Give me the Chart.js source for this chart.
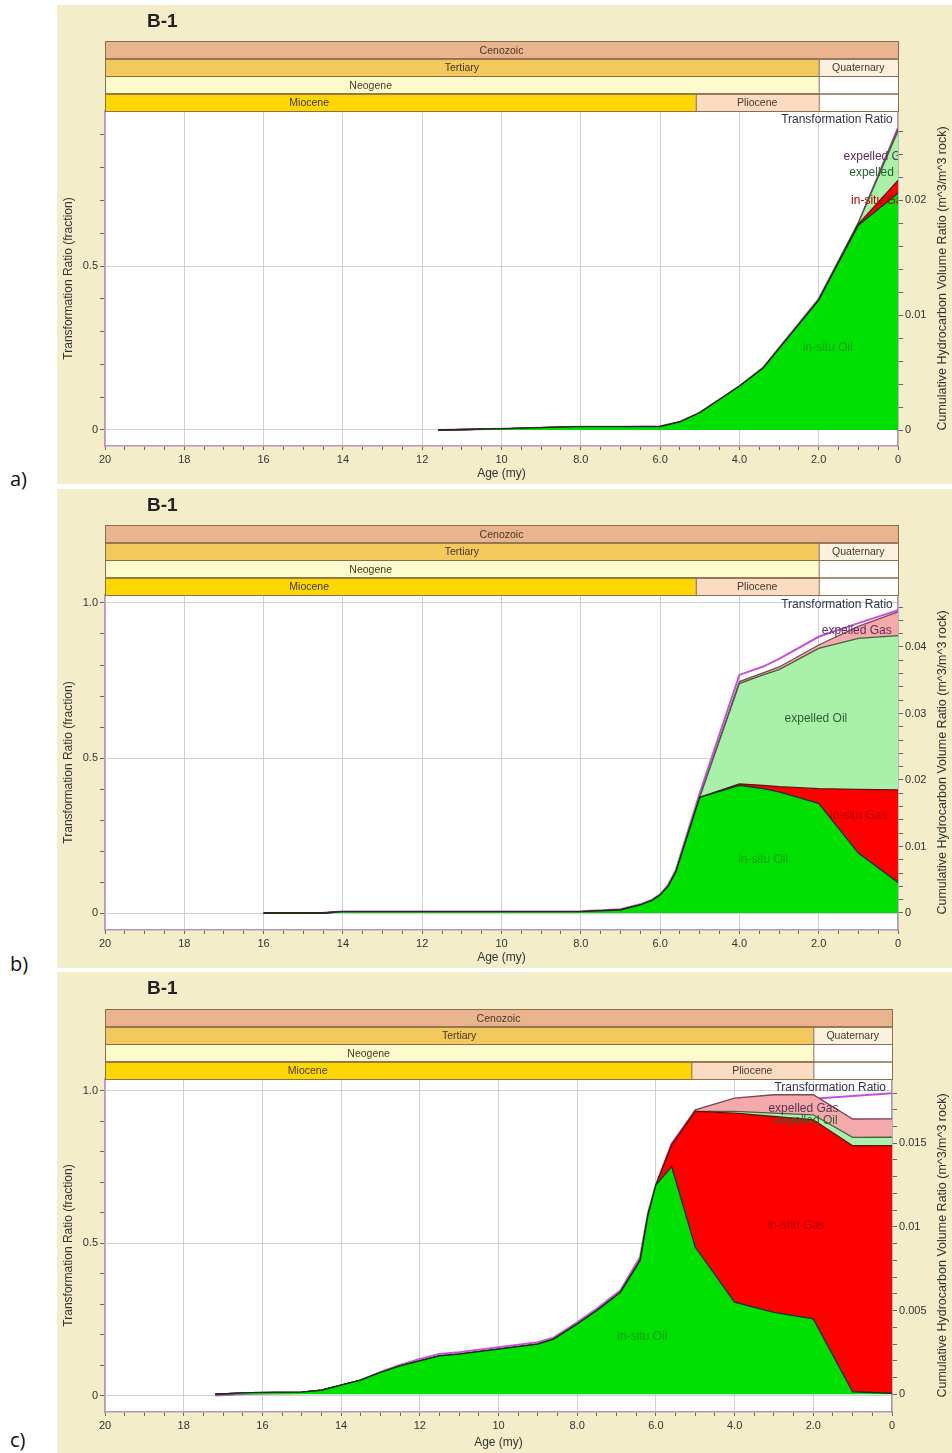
<!DOCTYPE html>
<html>
<head>
<meta charset="utf-8">
<title>B-1 transformation ratio</title>
<script src="https://cdn.jsdelivr.net/npm/chart.js@4.4.1/dist/chart.umd.min.js"></script>
<style>
  body { margin: 0; width: 952px; height: 1453px; position: relative; background: #fff; overflow: hidden; }
  .panel { position: absolute; left: 57px; background: #f3edca; }
  .tag { position: absolute; left: 10px; font: 20px "Open Sans", "Liberation Sans", sans-serif; color: #111; line-height: 24px; }
</style>
</head>
<body>
<canvas id="chartA" class="panel" width="895" height="479" style="top:5px"></canvas>
<canvas id="chartB" class="panel" width="895" height="479" style="top:489px"></canvas>
<canvas id="chartC" class="panel" width="895" height="481" style="top:972px"></canvas>
<div class="tag" style="top:467px">a)</div>
<div class="tag" style="top:952px">b)</div>
<div class="tag" style="top:1428px">c)</div>

<script>
// ---- data ----
const ageTicks = [20, 18, 16, 14, 12, 10, 8, 6, 4, 2, 0];
const trTicks = [0, 0.5, 1.0];

// geologic time scale (my): row, name, from, to
const eraNames = ['Cenozoic', 'Tertiary', 'Quaternary', 'Neogene', 'Miocene', 'Pliocene'];
const eraRow   = [0, 1, 1, 2, 3, 3];
const eraFrom  = [20, 20, 2.0, 24.6, 24.6, 5.1];
const eraTo    = [0, 2.0, 0, 2.0, 5.1, 2.0];

const labelText = ['Transformation Ratio', 'expelled Gas', 'expelled Oil', 'in-situ Gas', 'in-situ Oil'];

// a)
const agesA        = [11.6, 10, 9, 8, 7, 6, 5.5, 5, 4, 3.4, 2, 1, 0];
const inSituOilA   = [0, 0.0001, 0.0002, 0.0003, 0.0003, 0.0003, 0.0007, 0.0015, 0.0038, 0.0054, 0.0113, 0.0178, 0.0206];
const inSituGasA   = [0, 0, 0, 0, 0, 0, 0, 0, 0, 0, 0, 0.0001, 0.0011];
const expelledOilA = [0, 0, 0, 0, 0, 0, 0, 0, 0, 0, 0, 0.0001, 0.0043];
const expelledGasA = [0, 0, 0, 0, 0, 0, 0, 0, 0, 0, 0, 0, 0.0002];
const trA          = [0, 0.004, 0.007, 0.01, 0.01, 0.011, 0.025, 0.053, 0.133, 0.19, 0.4, 0.63, 0.922];
const volTicksA    = [0, 0.01, 0.02];
const labelAgeA    = [1.54, 0.49, 0.44, 0.46, 1.77];
const labelVolA    = [0.02696, 0.0238, 0.02235, 0.0199, 0.00713];

// b)
const agesB        = [16, 14.5, 14, 10, 8, 7, 6.5, 6.2, 6.0, 5.8, 5.6, 5.0, 4.0, 3.4, 3.0, 2.0, 1.0, 0];
const inSituOilB   = [0, 0, 0.0002, 0.0002, 0.0002, 0.00045, 0.0012, 0.0019, 0.0027, 0.004, 0.0062, 0.0174, 0.0192, 0.0187, 0.0182, 0.0165, 0.009, 0.0046];
const inSituGasB   = [0, 0, 0, 0, 0, 0, 0, 0, 0, 0, 0, 0, 0.0002, 0.0005, 0.0008, 0.0022, 0.0096, 0.0139];
const expelledOilB = [0, 0, 0, 0, 0, 0, 0, 0, 0, 0, 0, 0, 0.0151, 0.0166, 0.0176, 0.0211, 0.0227, 0.0232];
const expelledGasB = [0, 0, 0, 0, 0, 0, 0, 0, 0, 0, 0, 0, 0.0003, 0.0003, 0.0004, 0.0005, 0.0018, 0.0036];
const trB          = [0, 0.001, 0.005, 0.005, 0.006, 0.012, 0.028, 0.043, 0.06, 0.09, 0.14, 0.387, 0.768, 0.795, 0.82, 0.891, 0.935, 0.977];
const volTicksB    = [0, 0.01, 0.02, 0.03, 0.04];
const labelAgeB    = [1.54, 1.04, 2.07, 0.99, 3.4];
const labelVolB    = [0.0463, 0.0424, 0.0292, 0.0146, 0.008];

// c)
const agesC        = [17.2, 16.3, 15, 14.5, 14, 13.5, 13, 12.5, 12, 11.5, 11, 10, 9, 8.6, 8, 7.5, 6.9, 6.4, 6.2, 6.0, 5.6, 5.0, 4.0, 3.0, 2.0, 1.0, 0];
const inSituOilC   = [0, 0.0001, 0.00013, 0.00024, 0.00054, 0.00084, 0.0013, 0.0017, 0.002, 0.0023, 0.0024, 0.0027, 0.003, 0.0033, 0.0042, 0.005, 0.0061, 0.008, 0.0107, 0.0125, 0.0136, 0.0088, 0.0055, 0.0049, 0.0045, 0.00015, 0.00006];
const inSituGasC   = [0, 0, 0, 0, 0, 0, 0, 0, 0, 0, 0, 0, 0, 0, 0, 0, 0, 0, 0, 0, 0.0013, 0.0081, 0.0113, 0.0117, 0.0119, 0.0147, 0.0148];
const expelledOilC = [0, 0, 0, 0, 0, 0, 0, 0, 0, 0, 0, 0, 0, 0, 0, 0, 0, 0, 0, 0, 0, 0, 0.0001, 0.0002, 0.0003, 0.0005, 0.0005];
const expelledGasC = [0, 0, 0, 0, 0, 0, 0, 0, 0, 0, 0, 0, 0, 0, 0, 0, 0, 0, 0, 0, 0, 0.0001, 0.0008, 0.0011, 0.0012, 0.0011, 0.0011];
const trC          = [0, 0.006, 0.008, 0.015, 0.033, 0.05, 0.077, 0.1, 0.12, 0.136, 0.142, 0.158, 0.175, 0.19, 0.24, 0.285, 0.345, 0.455, 0.6, 0.69, 0.826, 0.934, 0.947, 0.96, 0.973, 0.982, 0.991];
const volTicksC    = [0, 0.005, 0.01, 0.015];
const labelAgeC    = [1.57, 2.25, 2.18, 2.43, 6.34];
const labelVolC    = [0.0183, 0.01704, 0.01633, 0.01005, 0.00343];

// ---- styling ----
const FONT = '"Liberation Sans", Arial, sans-serif';
Chart.defaults.font.family = FONT;

const eraColor = {
  Cenozoic: '#eab48e', Tertiary: '#f3c85c', Quaternary: '#fcf0de',
  Neogene: '#fdfacb', Miocene: '#fcd800', Pliocene: '#fbdcc2'
};
const labelColor = {
  'Transformation Ratio': '#333350', 'expelled Gas': '#5a2e5a', 'expelled Oil': '#2f5f2f',
  'in-situ Gas': '#b40000', 'in-situ Oil': '#14a014'
};

function tickList(min, max, step) {
  const out = [];
  for (let v = Math.ceil(min / step - 1e-9) * step; v <= max + 1e-9; v += step) {
    out.push(Math.round(v * 1e6) / 1e6);
  }
  return out;
}
const has = (list, v) => list.some(m => Math.abs(m - v) < 1e-9);
const fmtAge = v => v === 0 ? '0' : (v < 10 ? v.toFixed(1) : String(v));
const fmtTR = v => v === 0 ? '0' : v.toFixed(1);

function overlay(p) {
  return {
    id: 'overlay' + p.id,
    beforeDraw(chart) {
      const { ctx, chartArea: a } = chart;
      ctx.save();
      ctx.fillStyle = '#fff';
      ctx.fillRect(a.left, a.top, a.right - a.left, a.bottom - a.top);
      ctx.restore();
    },
    afterDatasetsDraw(chart) {
      const { ctx, chartArea: a, scales } = chart;
      ctx.save();
      ctx.beginPath();
      ctx.rect(a.left, a.top, a.right - a.left, a.bottom - a.top);
      ctx.clip();
      ctx.font = '12px ' + FONT;
      ctx.textAlign = 'center';
      ctx.textBaseline = 'middle';
      labelText.forEach((t, i) => {
        ctx.fillStyle = labelColor[t];
        ctx.fillText(t, scales.x.getPixelForValue(p.labelAge[i]), scales.yVol.getPixelForValue(p.labelVol[i]));
      });
      ctx.restore();
    },
    afterDraw(chart) {
      const { ctx, chartArea: a, scales: { x } } = chart;
      const rowH = 17.5;
      const top0 = a.top - rowH * 4;
      ctx.save();
      // well name
      ctx.font = 'bold 19px ' + FONT;
      ctx.fillStyle = '#222';
      ctx.textAlign = 'left';
      ctx.textBaseline = 'middle';
      ctx.fillText('B-1', 90, 17);
      // time scale rows
      for (let r = 0; r < 4; r++) {
        ctx.fillStyle = '#fff';
        ctx.fillRect(a.left, top0 + r * rowH, a.right - a.left, rowH);
      }
      ctx.font = '10.5px ' + FONT;
      ctx.textAlign = 'center';
      ctx.lineWidth = 1;
      eraNames.forEach((name, i) => {
        const y = top0 + eraRow[i] * rowH;
        const p0 = x.getPixelForValue(eraFrom[i]);
        const p1 = x.getPixelForValue(eraTo[i]);
        const x0 = Math.max(a.left, p0), x1 = Math.min(a.right, p1);
        ctx.fillStyle = eraColor[name];
        ctx.fillRect(x0, y, x1 - x0, rowH);
        ctx.strokeStyle = '#8e6c4e';
        ctx.strokeRect(x0 + 0.5, y + 0.5, x1 - x0, rowH);
        ctx.fillStyle = '#4a3626';
        ctx.fillText(name, (p0 + p1) / 2, y + rowH / 2 + 1);
      });
      ctx.strokeStyle = '#8e6c4e';
      for (let r = 0; r < 4; r++) {
        ctx.strokeRect(a.left + 0.5, top0 + r * rowH + 0.5, a.right - a.left, rowH);
      }
      // right axis title, reading upward
      ctx.save();
      ctx.translate(chart.width - 9, (a.top + a.bottom) / 2);
      ctx.rotate(-Math.PI / 2);
      ctx.font = '12.5px ' + FONT;
      ctx.fillStyle = '#333';
      ctx.fillText('Cumulative Hydrocarbon Volume Ratio (m^3/m^3 rock)', 0, 0);
      ctx.restore();
      ctx.restore();
    }
  };
}

function buildChart(p) {
  const area = (label, values, bg, border, fill) => ({
    label,
    data: p.ages.map((a, i) => ({ x: a, y: values[i] })),
    yAxisID: 'yVol',
    backgroundColor: bg,
    borderColor: border,
    borderWidth: 1.3,
    fill,
    pointRadius: 0,
    tension: 0
  });
  const tickFont = { family: FONT, size: 11 };
  const gridColor = majors => ctx => (ctx.tick && has(majors, ctx.tick.value)) ? '#cfcfd8' : 'rgba(0,0,0,0)';

  return new Chart(document.getElementById(p.id), {
    type: 'line',
    data: {
      datasets: [
        area('in-situ Oil', p.oil, '#00e000', '#1b301b', 'origin'),
        area('in-situ Gas', p.gas, '#ff0000', '#5e1414', '-1'),
        area('expelled Oil', p.exOil, '#a9f1a9', '#455f45', '-1'),
        area('expelled Gas', p.exGas, '#f4aaaa', '#7a4658', '-1'),
        // last in the list, so it is drawn first and the area outlines sit over it
        {
          label: 'Transformation Ratio',
          data: p.ages.map((a, i) => ({ x: a, y: p.tr[i] })),
          yAxisID: 'yTR',
          borderColor: '#c453d8',
          borderWidth: 2,
          fill: false,
          pointRadius: 0
        }
      ]
    },
    options: {
      responsive: false,
      animation: false,
      devicePixelRatio: 1,
      events: [],
      layout: { padding: { top: p.padTop, left: 0, right: 0, bottom: 0 } },
      plugins: { legend: { display: false }, tooltip: { enabled: false } },
      scales: {
        x: {
          type: 'linear', reverse: true, min: 0, max: 20,
          afterBuildTicks: s => { s.ticks = tickList(0, 20, 0.5).map(v => ({ value: v })); },
          afterFit: s => { s.height = p.xAxisH; },
          ticks: { autoSkip: false, maxRotation: 0, padding: 3, color: '#333', font: tickFont,
                   callback: v => has(ageTicks, v) ? fmtAge(v) : '' },
          grid: { color: gridColor(ageTicks), tickColor: '#666', tickLength: 4 },
          border: { color: '#b895b8', width: 1.5 },
          title: { display: true, text: 'Age (my)', color: '#333', font: { family: FONT, size: 12 },
                   padding: { top: 0, bottom: 3 } }
        },
        yTR: {
          type: 'linear', position: 'left', min: p.trMin, max: p.trMax,
          afterBuildTicks: s => { s.ticks = tickList(0, p.trMax, 0.1).map(v => ({ value: v })); },
          afterFit: s => { s.width = 48; },
          ticks: { autoSkip: false, padding: 2, color: '#333', font: tickFont,
                   callback: v => has(trTicks, v) ? fmtTR(v) : '' },
          grid: { color: gridColor(trTicks), tickColor: '#666', tickLength: 5 },
          border: { color: '#b895b8', width: 1.5 },
          title: { display: true, text: 'Transformation Ratio (fraction)', color: '#333',
                   font: { family: FONT, size: 12 }, padding: { top: 4, bottom: 0 } }
        },
        yVol: {
          type: 'linear', position: 'right', stacked: true, min: p.volMin, max: p.volMax,
          afterBuildTicks: s => { s.ticks = tickList(0, p.volMax, p.volStep).map(v => ({ value: v })); },
          afterFit: s => { s.width = p.rightW; },
          ticks: { autoSkip: false, padding: 2, color: '#333', font: tickFont,
                   callback: v => has(p.volTicks, v) ? String(v) : '' },
          grid: { drawOnChartArea: false, tickColor: '#666', tickLength: 5 },
          border: { color: '#a89aa8', width: 1.5 }
        }
      }
    },
    plugins: [overlay(p)]
  });
}

const panels = [
  { id: 'chartA', ages: agesA, oil: inSituOilA, gas: inSituGasA, exOil: expelledOilA, exGas: expelledGasA, tr: trA,
    trMin: -0.049, trMax: 0.973, volMin: -0.00139, volMax: 0.02774, volStep: 0.002, volTicks: volTicksA,
    labelAge: labelAgeA, labelVol: labelVolA, padTop: 106, xAxisH: 38, rightW: 54 },
  { id: 'chartB', ages: agesB, oil: inSituOilB, gas: inSituGasB, exOil: expelledOilB, exGas: expelledGasB, tr: trB,
    trMin: -0.0548, trMax: 1.0258, volMin: -0.00256, volMax: 0.04782, volStep: 0.002, volTicks: volTicksB,
    labelAge: labelAgeB, labelVol: labelVolB, padTop: 106, xAxisH: 38, rightW: 54 },
  { id: 'chartC', ages: agesC, oil: inSituOilC, gas: inSituGasC, exOil: expelledOilC, exGas: expelledGasC, tr: trC,
    trMin: -0.054, trMax: 1.038, volMin: -0.00106, volMax: 0.01884, volStep: 0.001, volTicks: volTicksC,
    labelAge: labelAgeC, labelVol: labelVolC, padTop: 107, xAxisH: 41, rightW: 60 }
];

panels.forEach(buildChart);
</script>
</body>
</html>
